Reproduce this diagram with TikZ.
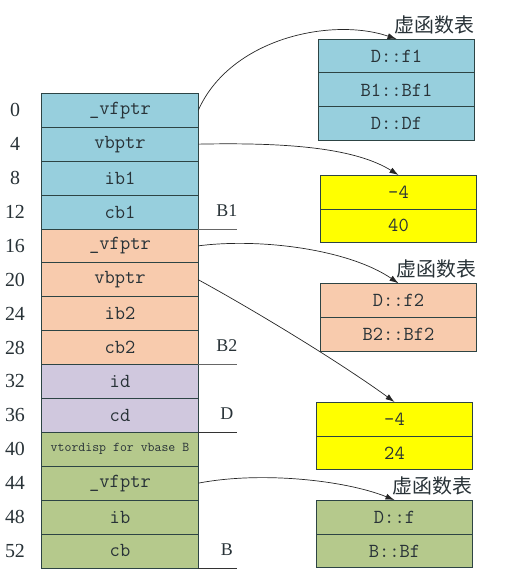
\documentclass[tikz,border=0pt]{standalone}
\usepackage{fontspec}
\setmainfont{Liberation Serif}
\newfontfamily\cjkfont{Noto Sans CJK SC}
\usetikzlibrary{positioning}
\usetikzlibrary{arrows.meta}

\definecolor{edgecol}{RGB}{45,68,68}
\definecolor{txtcol}{RGB}{40,50,55}
\definecolor{bonecol}{RGB}{151,207,221}
\definecolor{btwocol}{RGB}{248,203,173}
\definecolor{dcol}{RGB}{208,200,222}
\definecolor{bcol}{RGB}{181,201,140}
\definecolor{offcol}{RGB}{255,255,0}

\begin{document}
\begin{tikzpicture}[
  x=1bp, y=-1bp,
  node distance=0bp,
  cell/.style={draw=edgecol,line width=0.8bp,minimum width=156.6bp,minimum height=33.9bp,
    inner sep=0pt,outer sep=0pt,text=txtcol,font=\ttfamily\fontsize{20}{20}\selectfont},
  offs/.style={text=txtcol,inner sep=0pt,font=\fontsize{20}{20}\selectfont},
  cls/.style={text=txtcol,inner sep=0pt,font=\fontsize{18}{18}\selectfont},
  tablbl/.style={text=txtcol,inner sep=0pt,font=\cjkfont\fontsize{20}{20}\selectfont},
  ptr/.style={-{Latex[length=9bp,width=6bp]},draw=black!85,line width=0.7bp}
]
\useasboundingbox (0,0) rectangle (532,583);

% object layout of D
\node[cell,fill=bonecol] (c0) at (120,110.25) {\_vfptr};
\node[cell,fill=bonecol,below=of c0] (c4) {vbptr};
\node[cell,fill=bonecol,below=of c4] (c8) {ib1};
\node[cell,fill=bonecol,below=of c8] (c12) {cb1};
\node[cell,fill=btwocol,below=of c12] (c16) {\_vfptr};
\node[cell,fill=btwocol,below=of c16] (c20) {vbptr};
\node[cell,fill=btwocol,below=of c20] (c24) {ib2};
\node[cell,fill=btwocol,below=of c24] (c28) {cb2};
\node[cell,fill=dcol,below=of c28] (c32) {id};
\node[cell,fill=dcol,below=of c32] (c36) {cd};
\node[cell,fill=bcol,below=of c36,font=\ttfamily\fontsize{13.5}{13.5}\selectfont] (c40) {vtordisp for vbase B};
\node[cell,fill=bcol,below=of c40] (c44) {\_vfptr};
\node[cell,fill=bcol,below=of c44] (c48) {ib};
\node[cell,fill=bcol,below=of c48] (c52) {cb};

% offsets
\node[offs] at ([xshift=-26.7bp]c0.west) {0};
\node[offs] at ([xshift=-26.7bp]c4.west) {4};
\node[offs] at ([xshift=-26.7bp]c8.west) {8};
\node[offs] at ([xshift=-26.7bp]c12.west) {12};
\node[offs] at ([xshift=-26.7bp]c16.west) {16};
\node[offs] at ([xshift=-26.7bp]c20.west) {20};
\node[offs] at ([xshift=-26.7bp]c24.west) {24};
\node[offs] at ([xshift=-26.7bp]c28.west) {28};
\node[offs] at ([xshift=-26.7bp]c32.west) {32};
\node[offs] at ([xshift=-26.7bp]c36.west) {36};
\node[offs] at ([xshift=-26.7bp]c40.west) {40};
\node[offs] at ([xshift=-26.7bp]c44.west) {44};
\node[offs] at ([xshift=-26.7bp]c48.west) {48};
\node[offs] at ([xshift=-26.7bp]c52.west) {52};

% sub-object names
\node[cls] (lB1) at ([xshift=28.5bp,yshift=1.5bp]c12.east) {B1};
\node[cls] (lB2) at ([xshift=28.5bp,yshift=1.5bp]c28.east) {B2};
\node[cls] (lD) at ([xshift=28.5bp,yshift=1.5bp]c36.east) {D};
\node[cls] (lB) at ([xshift=28.5bp,yshift=1.5bp]c52.east) {B};
\draw[draw=black!60,line width=0.8bp] (c12.south east) -- (c12.south east -| lB1.east);
\draw[draw=black!60,line width=0.8bp] (c28.south east) -- (c28.south east -| lB1.east);
\draw[draw=black!80,line width=0.8bp] (c36.south east) -- (c36.south east -| lB1.east);
\draw[draw=black!80,line width=0.8bp] (c52.south east) -- (c52.south east -| lB1.east);

% tables
\node[cell,fill=bonecol] (t1a) at (396.5,55.95) {D::f1};
\node[cell,fill=bonecol,below=of t1a] (t1b) {B1::Bf1};
\node[cell,fill=bonecol,below=of t1b] (t1c) {D::Df};
\node[tablbl,above=5bp of t1a.north east,anchor=south east] (v1) {虚函数表};

\node[cell,fill=offcol] (y1a) at (398.5,191.95) {-4};
\node[cell,fill=offcol,below=of y1a] (y1b) {40};

\node[cell,fill=btwocol] (t2a) at (398.5,300.25) {D::f2};
\node[cell,fill=btwocol,below=of t2a] (t2b) {B2::Bf2};
\node[tablbl,above=5bp of t2a.north east,anchor=south east] (v2) {虚函数表};

\node[cell,fill=offcol] (y2a) at (394.5,418.95) {-4};
\node[cell,fill=offcol,below=of y2a] (y2b) {24};

\node[cell,fill=bcol] (t3a) at (394.5,516.95) {D::f};
\node[cell,fill=bcol,below=of t3a] (t3b) {B::Bf};
\node[tablbl,above=5bp of t3a.north east,anchor=south east] (v3) {虚函数表};

% pointers
\draw[ptr] (c0.east) .. controls +(32,-72) and +(-65,-22) .. (t1a.north);
\draw[ptr] (c4.east) .. controls +(95,-2) and +(-42,-26) .. (y1a.north);
\draw[ptr] (c16.east) .. controls +(62,-8) and +(-50,-34) .. (t2a.north);
\draw[ptr] (c20.east) .. controls +(55,30) and +(-55,-40) .. (y2a.north);
\draw[ptr] (c44.east) .. controls +(62,-12) and +(-50,-20) .. (t3a.north);

\end{tikzpicture}
\end{document}
